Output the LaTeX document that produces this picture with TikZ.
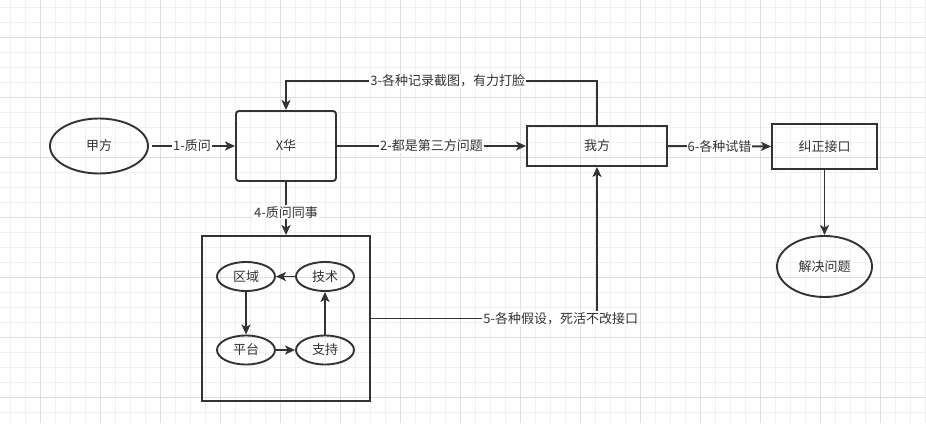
\documentclass[tikz,border=0pt]{standalone}
\usepackage{fontspec}
\newfontfamily\cjk{Noto Sans CJK SC}
\usetikzlibrary{arrows.meta,shapes.geometric}

\begin{document}
\begin{tikzpicture}[x=1pt,y=-1pt,
		line width=1.9pt, draw=black!80,
		every node/.style={font=\cjk\fontsize{13}{15}\selectfont, text=black!80},
		box/.style={draw, rectangle, inner sep=0pt},
		oval/.style={draw, ellipse, inner sep=0pt},
		arr/.style={-{Stealth[length=10pt,width=9pt,inset=2.5pt]}},
		lbl/.style={fill=white, inner sep=1pt},
		minorgrid/.style={line width=0.6pt, draw=black!6},
		majorgrid/.style={line width=0.8pt, draw=black!13}]
			\useasboundingbox (0,0) rectangle (926,423);

			% background grid
			\foreach \x in {10,25,...,925} \draw[minorgrid] (\x,0) -- (\x,423);
			\foreach \y in {7,22,...,422} \draw[minorgrid] (0,\y) -- (926,\y);
			\foreach \x in {40,100,...,900} \draw[majorgrid] (\x,0) -- (\x,423);
			\foreach \y in {37,97,...,400} \draw[majorgrid] (0,\y) -- (926,\y);

			\node[oval, minimum width=98, minimum height=55] (jiafang) at (99,146) {甲方};
			\node[box, rounded corners=3pt, minimum width=100, minimum height=70] (xhua) at (286,146) {X华};
			\node[box, minimum width=140, minimum height=40] (wofang) at (597,146) {我方};
			\node[box, minimum width=105, minimum height=45] (jiuzheng) at (824.5,146.5) {纠正接口};
			\node[oval, minimum width=95, minimum height=61] (jiejue) at (824.5,266.5) {解决问题};

			\node[box, minimum width=168, minimum height=165] (team) at (286,318.5) {};
			\node[oval, minimum width=58, minimum height=29] (quyu) at (246,276.5) {区域};
			\node[oval, minimum width=58, minimum height=29] (jishu) at (325,276.5) {技术};
			\node[oval, minimum width=58, minimum height=29] (pingtai) at (246,350) {平台};
			\node[oval, minimum width=58, minimum height=29] (zhichi) at (325,350) {支持};

			\coordinate (back) at (286,81);

			\draw[arr, shorten <=3pt] (jiafang) -- node[lbl] {1-质问} (xhua);
			\draw[arr] (xhua) -- node[lbl] {2-都是第三方问题} (wofang);
			\draw[arr] (wofang.north) |- node[lbl, pos=0.74] {3-各种记录截图，有力打脸} (back) -- (xhua.north);
			\draw[arr] (xhua) -- node[lbl, pos=0.57] {4-质问同事} (team);
			\draw[arr] (team.east) -| node[lbl, pos=0.42] {5-各种假设，死活不改接口} (wofang.south);
			\draw[arr] (wofang) -- node[lbl] {6-各种试错} (jiuzheng);
			\draw[arr] (jiuzheng) -- (jiejue);

			\draw[arr] (jishu) -- (quyu);
			\draw[arr] (quyu) -- (pingtai);
			\draw[arr] (pingtai) -- (zhichi);
			\draw[arr] (zhichi) -- (jishu);
\end{tikzpicture}
\end{document}
